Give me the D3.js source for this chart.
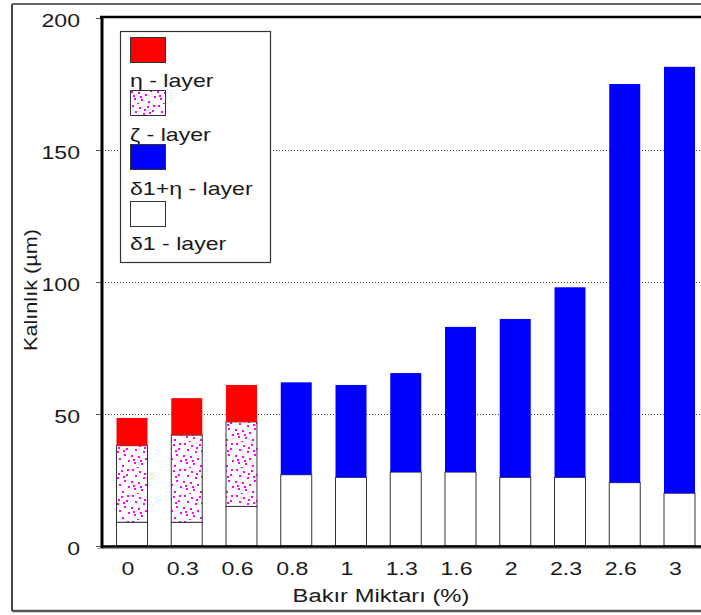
<!DOCTYPE html>
<html>
<head>
<meta charset="utf-8">
<script src="https://cdn.jsdelivr.net/npm/d3@7"></script>
<style>
  html, body { margin: 0; padding: 0; background: #fff; }
  svg { display: block; }
  text { font-family: "Liberation Sans", Arial, sans-serif; fill: #1a1a1a; }
</style>
</head>
<body>
<svg id="chart" width="701" height="615"></svg>
<script>
// ---- data ----
const categories = ["0", "0.3", "0.6", "0.8", "1", "1.3", "1.6", "2", "2.3", "2.6", "3"];
const delta1    = [9, 9, 15, 27, 26, 28, 28, 26, 26, 24, 20];          // δ1 - layer (white)
const zeta      = [29, 33, 32, 0, 0, 0, 0, 0, 0, 0, 0];                // ζ - layer (dotted)
const delta1eta = [0, 0, 0, 35, 35, 37.5, 55, 60, 72, 151, 161.5];     // δ1+η - layer (blue)
const eta       = [10.5, 14, 14, 0, 0, 0, 0, 0, 0, 0, 0];              // η - layer (red)
const yTicks = [0, 50, 100, 150, 200];
const legendLabels = ["η - layer", "ζ - layer", "δ1+η - layer", "δ1 - layer"];
const yTitle = "Kalınlık (µm)";
const xTitle = "Bakır Miktarı (%)";

(function () {
const rows = categories.map((c, i) => ({
  cat: c, delta1: delta1[i], zeta: zeta[i], delta1eta: delta1eta[i], eta: eta[i]
}));
const keys = ["delta1", "zeta", "delta1eta", "eta"];

const SX = 1.32; // horizontal stretch of the original typography

const svg = d3.select("#chart");

// speckle texture for ζ layer
const defs = svg.append("defs");
const pat = defs.append("pattern").attr("id", "speckle")
  .attr("patternUnits", "userSpaceOnUse").attr("width", 26).attr("height", 26);
pat.append("rect").attr("width", 26).attr("height", 26).attr("fill", "#fff");
const dots = [[2,1],[9,3],[17,2],[22,6],[5,7],[13,9],[20,12],[1,13],[8,14],[15,16],
              [24,18],[4,20],[11,21],[18,23],[7,25],[23,1],[14,5],[3,17],[19,8],[10,18]];
pat.selectAll("rect.d").data(dots).join("rect").attr("class", "d")
  .attr("x", d => d[0]).attr("y", d => d[1]).attr("width", 2).attr("height", 2)
  .attr("fill", "#ff00ff");

const fills = { delta1: "#ffffff", zeta: "url(#speckle)", delta1eta: "#0000ff", eta: "#ff0000" };

const mLeft = 102, mTop = 18, mBottom = 546;
const x = d3.scaleBand().domain(categories).range([mLeft, 709.5])
  .paddingInner(0.434).paddingOuter(0.265);
const y = d3.scaleLinear().domain([0, 200]).range([mBottom, mTop]);

// outer frame
svg.append("line").attr("x1", 12).attr("x2", 12).attr("y1", 4).attr("y2", 611)
  .attr("stroke", "#444").attr("stroke-width", 2);
svg.append("line").attr("x1", 12).attr("x2", 701).attr("y1", 4).attr("y2", 4)
  .attr("stroke", "#666").attr("stroke-width", 2);
svg.append("line").attr("x1", 12).attr("x2", 701).attr("y1", 611).attr("y2", 611)
  .attr("stroke", "#555").attr("stroke-width", 2.5);

// gridlines
const grid = svg.append("g").attr("transform", `translate(${mLeft},0)`)
  .call(d3.axisLeft(y).tickValues([50, 100, 150]).tickSize(-(701 - mLeft)).tickFormat(""));
grid.select(".domain").remove();
grid.selectAll("line").attr("stroke", "#444").attr("stroke-dasharray", "1,2").attr("stroke-width", 1);

// bars
const stacked = d3.stack().keys(keys)(rows);
const layerG = svg.append("g");
stacked.forEach(layer => {
  const k = layer.key;
  layerG.append("g").selectAll("rect")
    .data(layer.filter(d => d[1] - d[0] > 0))
    .join("rect")
    .attr("x", d => x(d.data.cat))
    .attr("width", x.bandwidth())
    .attr("y", d => y(d[1]))
    .attr("height", d => y(d[0]) - y(d[1]))
    .attr("fill", fills[k])
    .attr("stroke", (k === "delta1" || k === "zeta") ? "#333" : "none")
    .attr("stroke-width", 1);
});

// y axis ticks and labels
const yAx = svg.append("g").attr("transform", `translate(${mLeft},0)`)
  .call(d3.axisLeft(y).tickValues(yTicks).tickSize(6).tickSizeOuter(0));
yAx.select(".domain").remove();
yAx.selectAll("line").attr("stroke", "#555");
yAx.selectAll("text")
  .attr("x", -22 / SX).attr("dy", null).attr("y", 8)
  .attr("transform", `scale(${SX},1)`)
  .style("font-size", "17.5px").style("font-family", "Liberation Sans, Arial, sans-serif")
  .attr("fill", "#1a1a1a");

// x axis labels
const xAx = svg.append("g").attr("transform", `translate(0,${mBottom})`)
  .call(d3.axisBottom(x).tickSize(0).tickSizeOuter(0));
xAx.select(".domain").remove();
xAx.selectAll(".tick text")
  .attr("x", -4 / SX).attr("dy", null).attr("y", 29)
  .attr("transform", `scale(${SX},1)`)
  .style("font-size", "17.5px").style("font-family", "Liberation Sans, Arial, sans-serif")
  .attr("fill", "#1a1a1a");

// axis lines
svg.append("line").attr("x1", mLeft).attr("x2", mLeft).attr("y1", mTop - 1).attr("y2", mBottom + 2)
  .attr("stroke", "#000").attr("stroke-width", 3);
svg.append("line").attr("x1", mLeft).attr("x2", 701).attr("y1", mBottom + 0.5).attr("y2", mBottom + 0.5)
  .attr("stroke", "#000").attr("stroke-width", 2.5);
svg.append("line").attr("x1", 97).attr("x2", 701).attr("y1", mBottom + 2.5).attr("y2", mBottom + 2.5)
  .attr("stroke", "#999").attr("stroke-width", 1);
svg.append("line").attr("x1", 100).attr("x2", 701).attr("y1", mTop - 1).attr("y2", mTop - 1)
  .attr("stroke", "#000").attr("stroke-width", 2.5);

// stretched text helper
function stretchText(g, tx, ty, str, anchor, size) {
  const t = g.append("g").attr("transform", `translate(${tx},${ty}) scale(${SX},1)`);
  t.append("text").attr("text-anchor", anchor).style("font-size", size + "px").text(str);
  return t;
}

// axis titles
stretchText(svg, 381, 602, xTitle, "middle", 18);
const yt = svg.append("g").attr("transform", `translate(37,290) rotate(-90) scale(1.24,1)`);
yt.append("text").attr("text-anchor", "middle").style("font-size", "17.5px").text(yTitle);

// legend
const lg = svg.append("g");
lg.append("rect").attr("x", 120.5).attr("y", 31.5).attr("width", 150).attr("height", 231)
  .attr("fill", "#fff").attr("stroke", "#333").attr("stroke-width", 1.2);
const legendKeys = ["eta", "zeta", "delta1eta", "delta1"];
const swY = [37, 90, 144, 201];
const txY = [87, 141, 195, 250];
legendKeys.forEach((k, i) => {
  lg.append("rect").attr("x", 130.5).attr("y", swY[i] + 0.5).attr("width", 35).attr("height", 25)
    .attr("fill", fills[k]).attr("stroke", "#333").attr("stroke-width", 1);
  stretchText(lg, 130, txY[i], legendLabels[i], "start", 17.5);
});
})();
</script>
</body>
</html>
